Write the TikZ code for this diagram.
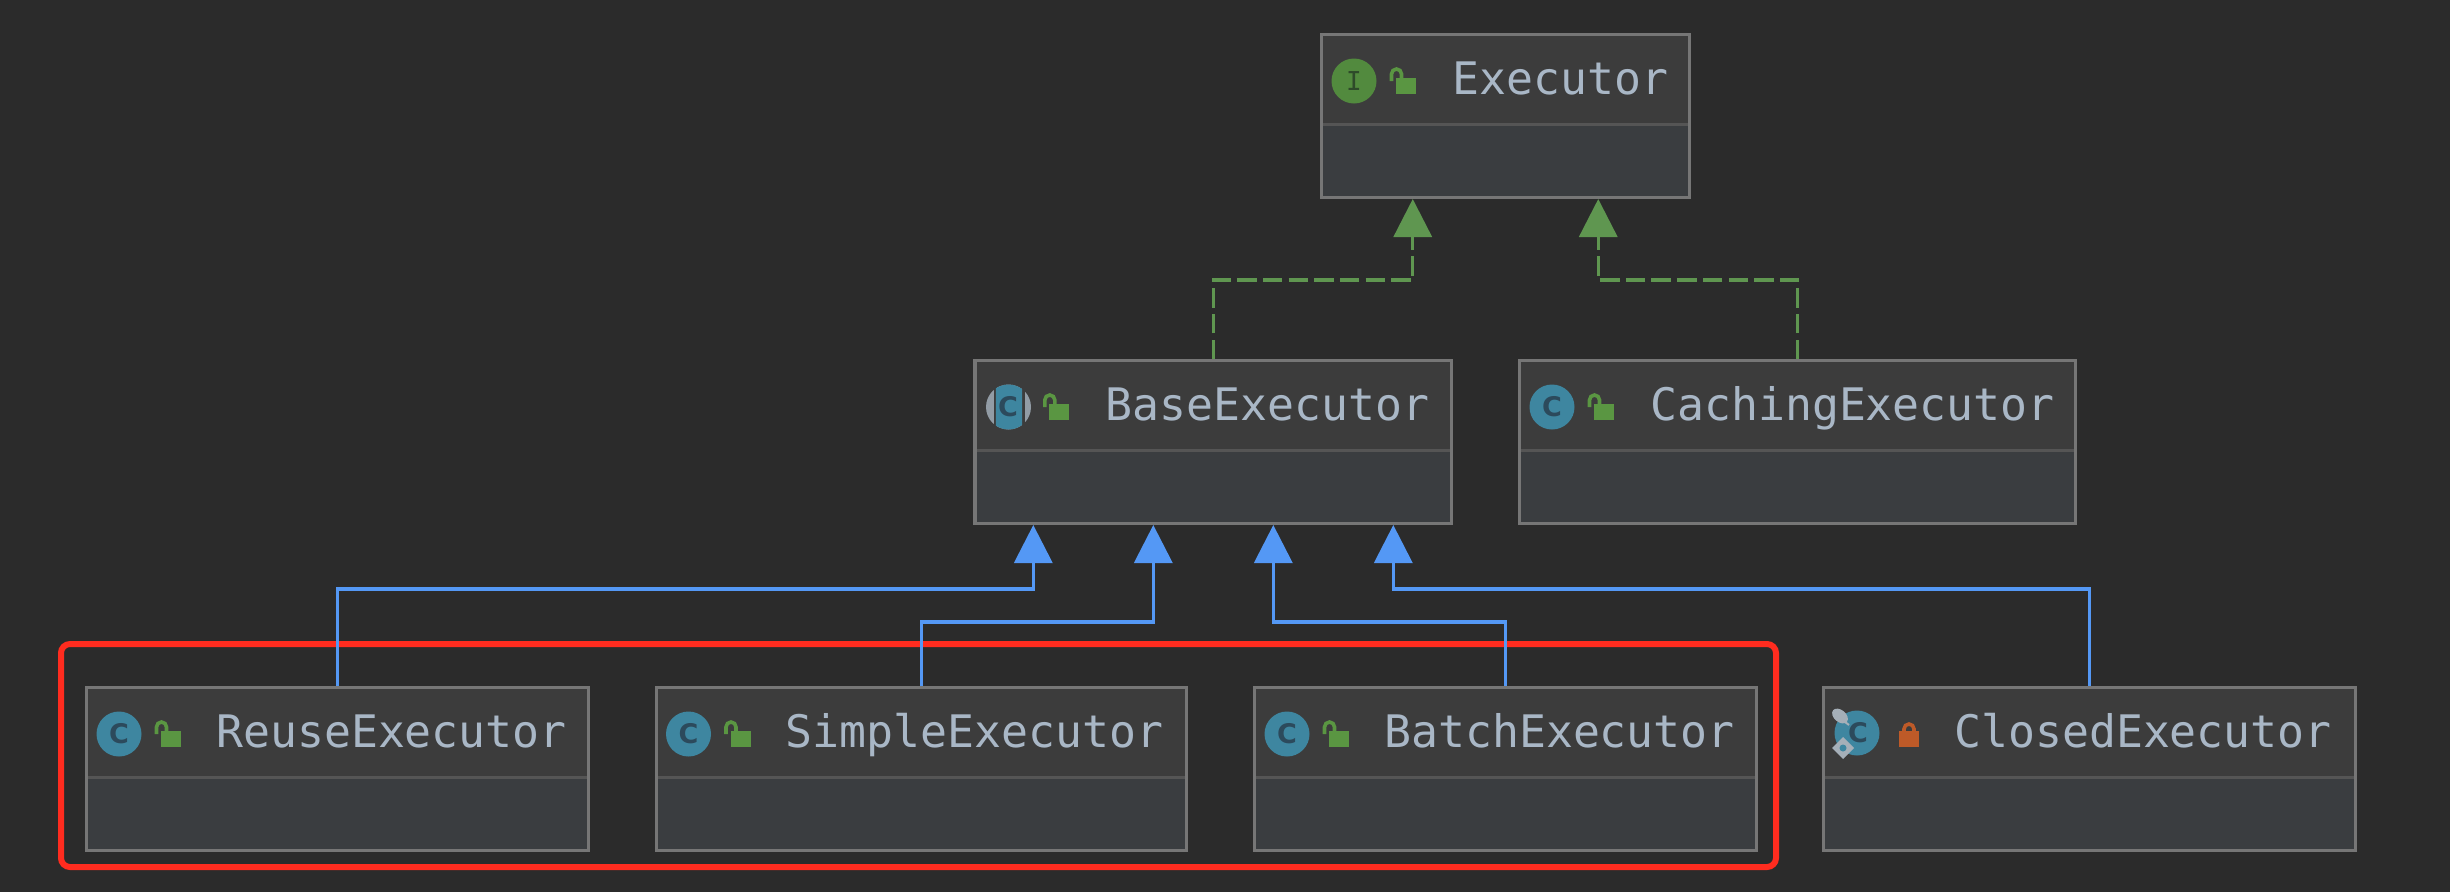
\documentclass[tikz,border=0pt]{standalone}
\usepackage{fontspec}
\setmainfont{DejaVu Sans Mono}
\newfontfamily\glyphfont{DejaVu Sans}
\usetikzlibrary{arrows.meta,calc}
\definecolor{bgc}{HTML}{2B2B2B}
\definecolor{headc}{HTML}{3C3C3C}
\definecolor{bodyc}{HTML}{3A3D40}
\definecolor{edgec}{HTML}{767676}
\definecolor{divc}{HTML}{555555}
\definecolor{textc}{HTML}{A9B7C6}
\definecolor{tealc}{HTML}{3E86A0}
\definecolor{glyphc}{HTML}{2C4A5C}
\definecolor{igreen}{HTML}{528A3E}
\definecolor{iglyph}{HTML}{2E4A2A}
\definecolor{lockg}{HTML}{5A9642}
\definecolor{locko}{HTML}{BE5A28}
\definecolor{greyc}{HTML}{929CA5}
\definecolor{lgreyc}{HTML}{A5AFB8}
\definecolor{implc}{HTML}{5F9650}
\definecolor{extc}{HTML}{5498F5}
\definecolor{redc}{HTML}{FF2C1F}
\tikzset{
  x=1pt,y=-1pt,
  classbox/.style={draw=edgec,fill=bodyc,line width=3.2pt,inner sep=0pt,rectangle},
  classlabel/.style={anchor=base west,text=textc,inner sep=0pt,font=\fontsize{44.8pt}{50pt}\selectfont},
  glyphtext/.style={inner sep=0pt,font=\glyphfont\fontsize{27pt}{28pt}\selectfont\bfseries},
  iglyphtext/.style={inner sep=0pt,font=\fontsize{26pt}{28pt}\selectfont},
  extends/.style={draw=extc,line width=3.4pt,-{Triangle[length=38pt,width=38pt,fill=extc]}},
  implements/.style={draw=implc,line width=3.4pt,dash pattern=on 19.5pt off 6.2pt,-{Triangle[length=38pt,width=38pt,fill=implc]}},
}
% #1 name, #2 x1, #3 y1, #4 x2, #5 y2, #6 text, #7 text x-offset
\newcommand\classnode[7]{%
  \node[classbox,minimum width={#4-#2-3.2},minimum height={#5-#3-3.2}] (#1) at ({(#2+#4)/2},{(#3+#5)/2}) {};
  \fill[headc] (#2+3.2,#3+3.2) rectangle (#4-3.2,#3+90);
  \fill[divc] (#2+3.2,#3+90) rectangle (#4-3.2,#3+93);
  \node[classlabel] (#1-label) at (#2+#7,#3+61) {#6};
}
\newcommand\classicon[3]{% x1 y1 name
  \fill[tealc] (#1+34,#2+48) circle[radius=22.5];
  \node[glyphtext,text=glyphc] (#3-glyph) at (#1+34,#2+48) {C};
}
\newcommand\openlock[2]{%
  \fill[lockg] (#1+76,#2+45) rectangle (#1+96,#2+61);
  \draw[lockg,line width=3.6pt] (#1+71.5,#2+48) -- (#1+71.5,#2+41) arc[start angle=180,end angle=360,radius=5] -- (#1+81.5,#2+45);
}
\begin{document}
\begin{tikzpicture}
\useasboundingbox (0,0) rectangle (2450,892);
\fill[bgc] (0,0) rectangle (2450,892);

% red highlight
\draw[redc,line width=6pt,rounded corners=9pt] (61,644) rectangle (1776,867);

% Executor
\classnode{exec}{1320}{33}{1691}{199}{Executor}{132}
\fill[igreen] (1354,81) circle[radius=22.5];
\node[iglyphtext,text=iglyph] (exec-glyph) at (1354,81) {I};
\openlock{1320}{33}

% BaseExecutor
\classnode{base}{973.3}{359}{1453.3}{525}{BaseExecutor}{132}
\fill[greyc] (1008.5,407) circle[radius=22.5];
\fill[headc] (993.5,384) rectangle (995.8,430);
\fill[headc] (1022,384) rectangle (1025,430);
\begin{scope}
\clip (995.8,384) rectangle (1022,430);
\fill[tealc] (1008.5,407) circle[radius=22.5];
\end{scope}
\node[glyphtext,text=glyphc] (base-glyph) at (1008,407) {C};
\openlock{973.3}{359}

% CachingExecutor
\classnode{cach}{1518}{359}{2077}{525}{CachingExecutor}{132}
\classicon{1518}{359}{cach}
\openlock{1518}{359}

% bottom row
\classnode{reuse}{85}{686}{590}{852}{ReuseExecutor}{131}
\classicon{85}{686}{reuse}
\openlock{85}{686}

\classnode{simple}{654.5}{686}{1188}{852}{SimpleExecutor}{131}
\classicon{654.5}{686}{simple}
\openlock{654.5}{686}

\classnode{batch}{1253}{686}{1758}{852}{BatchExecutor}{131}
\classicon{1253}{686}{batch}
\openlock{1253}{686}

\classnode{closed}{1822}{686}{2357}{852}{ClosedExecutor}{132}
\fill[tealc] (1857,733) circle[radius=22.5];
\node[glyphtext,text=glyphc] (closed-glyph) at (1858,733) {C};
\fill[lgreyc,rotate around={-40:(1840,716)}] (1840,716) ellipse[x radius=9,y radius=6];
\draw[lgreyc,line width=2pt] (1845,722) -- (1849,725);
\fill[lgreyc] (1843,737) -- (1854,748) -- (1843,759) -- (1832,748) -- cycle;
\fill[tealc] (1843,748) circle[radius=3.5];
\fill[locko] (1899,731) rectangle (1919,747);
\draw[locko,line width=3.6pt] (1904,731) -- (1904,729) arc[start angle=180,end angle=360,radius=5] -- (1914,731);

% connectors
\draw[implements] (base.north) -- ++(0,-79) -| ($(exec.south west)!.25!(exec.south east)$);
\draw[implements] (cach.north) -- ++(0,-79) -| ($(exec.south west)!.75!(exec.south east)$);
\draw[extends] (reuse.north) -- ++(0,-97) -| ($(base.south west)!.125!(base.south east)$);
\draw[extends] (simple.north) -- ++(0,-64) -| ($(base.south west)!.375!(base.south east)$);
\draw[extends] (batch.north) -- ++(0,-64) -| ($(base.south west)!.625!(base.south east)$);
\draw[extends] (closed.north) -- ++(0,-97) -| ($(base.south west)!.875!(base.south east)$);
\end{tikzpicture}
\end{document}
